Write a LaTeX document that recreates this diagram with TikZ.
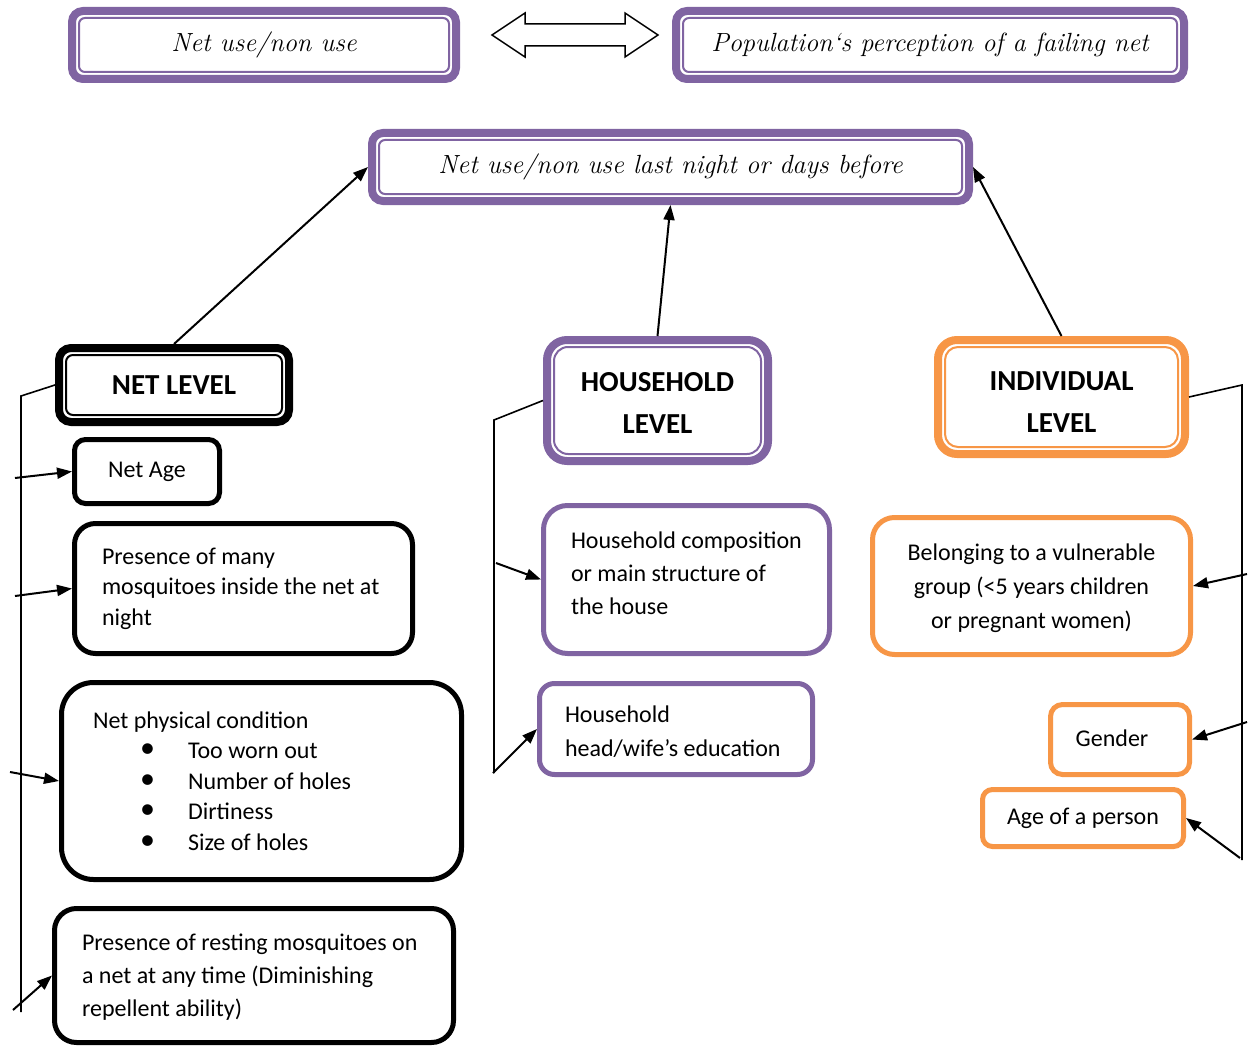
\documentclass[tikz,border=0pt]{standalone}
\usepackage{fontspec}
\usetikzlibrary{calc,arrows.meta}
\newfontfamily\calibri{Carlito}
\definecolor{vio}{HTML}{8064A2}
\definecolor{ora}{HTML}{F79646}
\newcommand\bodyf[1]{\calibri\fontsize{24}{#1}\selectfont}
\newcommand\headf{\calibri\bfseries\fontsize{29}{42}\selectfont}
\newcommand\titf{\itshape\fontsize{26.3}{30}\selectfont}
\newcommand\ml[1]{\mbox{#1}}
\newcommand\bul[1]{\mbox{\hspace*{47pt}\makebox[48pt][l]{\raisebox{1pt}{\scalebox{1.25}{\textbullet}}}#1}}
\newcommand\tb[5]{\parbox{#1}{\vspace*{#2}#4#5\par\vspace*{#3}}}
\newcommand\innerline[3]{\draw[draw=#2, line width=2pt, rounded corners=#3pt] ($(#1.north west)+(11,11)$) rectangle ($(#1.south east)+(-11,-11)$);}
\tikzset{
  lvl/.style={draw=#1, line width=8pt, fill=white},
  sbox/.style={draw=#1, line width=5pt, fill=white},
  arr/.style={line width=2pt, -{Triangle[length=15pt,width=11pt]}},
  brk/.style={line width=1.6pt},
}
\begin{document}
\begin{tikzpicture}[x=1pt,y=-1pt]
\useasboundingbox (0,0) rectangle (1253,1046);

% top row
\node[lvl=vio, rounded corners=11pt, minimum width=384pt, minimum height=68pt, font=\titf] (t1) at (264,45) {Net use/non use};
\node[lvl=vio, rounded corners=11pt, minimum width=508pt, minimum height=68pt, font=\titf] (t2) at (930,45) {Population‘s perception of a failing net};
\innerline{t1}{vio}{6}
\innerline{t2}{vio}{6}
\draw[line width=1.5pt, fill=white] (492,35) -- (525,13) -- (525,24) -- (625,24) -- (625,13) -- (658,35) -- (625,57) -- (625,46) -- (525,46) -- (525,57) -- cycle;

% goal
\node[lvl=vio, rounded corners=11pt, minimum width=597pt, minimum height=68pt, font=\titf] (goal) at (670.5,167) {Net use/non use last night or days before};
\innerline{goal}{vio}{6}

% levels
\node[lvl=black, rounded corners=12pt, minimum width=230pt, minimum height=74pt, font=\headf] (netl) at (174,385) {NET LEVEL};
\node[lvl=vio, rounded corners=20pt, minimum width=221pt, minimum height=121pt, inner xsep=0pt, font=\headf] (hhl) at (657.5,400.5) {\tb{200pt}{4pt}{0pt}{\centering}{HOUSEHOLD\\LEVEL}};
\node[lvl=ora, rounded corners=19pt, minimum width=247pt, minimum height=114pt, inner xsep=0pt, font=\headf] (indl) at (1061.5,397) {\tb{220pt}{11pt}{0pt}{\centering}{INDIVIDUAL\\LEVEL}};
\innerline{netl}{black}{7}
\innerline{hhl}{vio}{14}
\innerline{indl}{ora}{13}

% net level factors
\node[sbox=black, rounded corners=11pt, minimum width=145pt, minimum height=64pt, font=\bodyf{30}] (netage) at (147,471.5) {Net Age};
\node[sbox=black, rounded corners=21pt, minimum width=338pt, minimum height=130pt, inner xsep=0pt, font=\bodyf{30.5}] (many) at (243.5,588.5) {\tb{283pt}{0pt}{0pt}{\raggedright}{\ml{Presence of many}\\\ml{mosquitoes inside the net at}\\\ml{night}}};
\node[sbox=black, rounded corners=32pt, minimum width=400pt, minimum height=197pt, inner xsep=0pt, font=\bodyf{30.5}] (phys) at (261.5,781) {\tb{337pt}{0pt}{0pt}{\raggedright}{\ml{Net physical condition}\\\bul{Too worn out}\\\bul{Number of holes}\\\bul{Dirtiness}\\\bul{Size of holes}}};
\node[sbox=black, rounded corners=22pt, minimum width=399pt, minimum height=134pt, inner xsep=0pt, font=\bodyf{33}] (rest) at (254,975.5) {\tb{344pt}{4pt}{0pt}{\raggedright}{\ml{Presence of resting mosquitoes on}\\\ml{a net at any time (Diminishing}\\\ml{repellent ability)}}};

% household factors
\node[sbox=vio, rounded corners=24pt, minimum width=286pt, minimum height=148pt, inner xsep=0pt, font=\bodyf{33}] (hcomp) at (686.5,579.5) {\tb{231pt}{0pt}{12pt}{\raggedright}{\ml{Household composition}\\\ml{or main structure of}\\\ml{the house}}};
\node[sbox=vio, rounded corners=15pt, minimum width=273pt, minimum height=91pt, inner xsep=0pt, font=\bodyf{34}] (hhead) at (676,729) {\tb{222pt}{6pt}{0pt}{\raggedright}{\ml{Household}\\\ml{head/wife’s education}}};

% individual factors
\node[sbox=ora, rounded corners=22pt, minimum width=318pt, minimum height=137pt, inner xsep=0pt, font=\bodyf{34}] (belong) at (1031.5,586) {\tb{298pt}{4pt}{0pt}{\centering}{Belonging to a vulnerable\\group (<5 years children\\or pregnant women)}};
\node[sbox=ora, rounded corners=12pt, minimum width=139pt, minimum height=70pt, font=\bodyf{30}] (gender) at (1120,739.5) {\hspace*{-16pt}\raisebox{3pt}{Gender}};
\node[sbox=ora, rounded corners=10pt, minimum width=201pt, minimum height=57pt, font=\bodyf{30}] (age) at (1083,818) {Age of a person};

% arrows to goal
\draw[arr] (netl.north) -- (goal.west);
\draw[arr] (hhl.north) -- (goal.south);
\draw[arr] (indl.north) -- (goal.east);

% left bracket
\coordinate (lb) at (21,396);
\coordinate (lbe) at (21,1012);
\draw[brk] (netl.west) -- (lb) -- (lbe);
\coordinate (l1) at (15,478);
\coordinate (l2) at (15,596);
\coordinate (l3) at (10,772);
\coordinate (l4) at (13,1010);
\draw[arr] (l1) -- (netage.west);
\draw[arr] (l2) -- (many.west);
\draw[arr] (l3) -- (phys.west);
\draw[arr] (l4) -- (rest.west);

% middle bracket
\coordinate (mb) at (494,420);
\coordinate (mbe) at (494,773);
\draw[brk] (hhl.west) -- (mb) -- (mbe);
\coordinate (m1) at (496,563);
\coordinate (m2) at (493,773);
\draw[arr] (m1) -- (hcomp.west);
\draw[arr] (m2) -- (hhead.west);

% right bracket
\coordinate (rb) at (1242,385);
\coordinate (rbe) at (1242,860);
\draw[brk] (indl.east) -- (rb) -- (rbe);
\coordinate (r1) at (1247,574);
\coordinate (r2) at (1247,722);
\coordinate (r3) at (1240,858);
\draw[arr] (r1) -- (belong.east);
\draw[arr] (r2) -- (gender.east);
\draw[arr] (r3) -- (age.east);
\end{tikzpicture}
\end{document}
